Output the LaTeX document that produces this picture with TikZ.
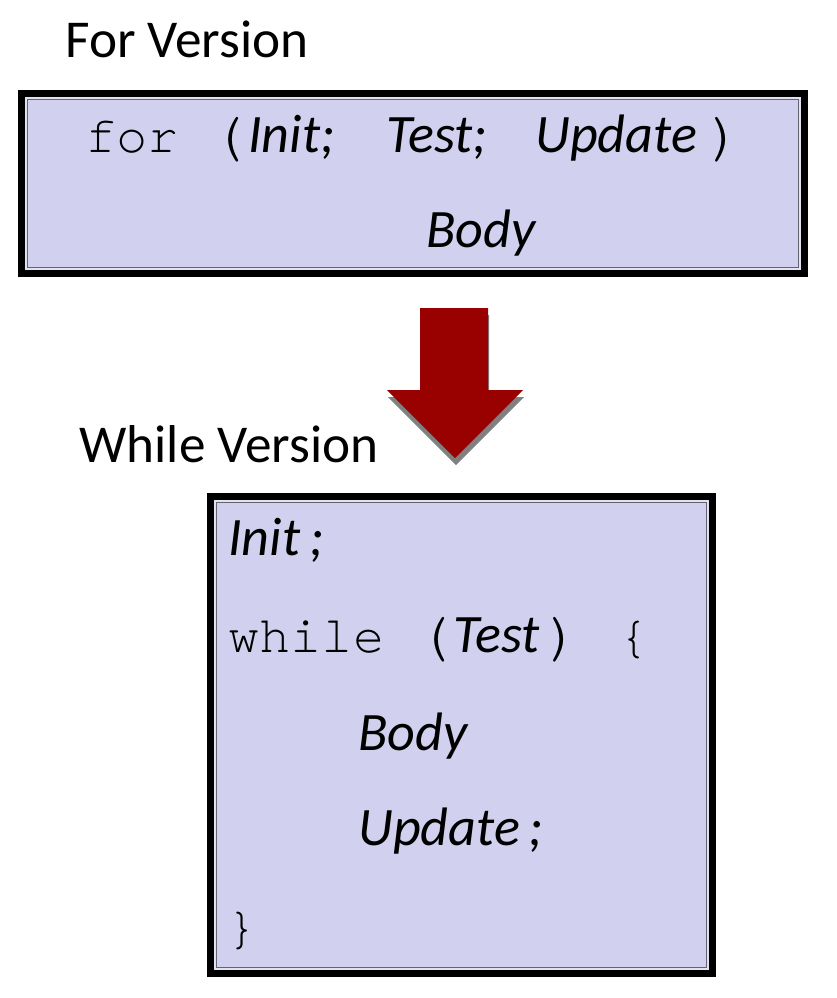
\documentclass[tikz,border=0pt]{standalone}
\usepackage{fontspec}
\setmainfont{Carlito}
\setmonofont{texgyrecursor-regular.otf}
\usepackage{tikz}
\usetikzlibrary{positioning}

\definecolor{boxfill}{RGB}{209,209,239}
\definecolor{boxgap}{RGB}{226,226,238}
\definecolor{boxline}{RGB}{100,100,112}
\definecolor{arrowred}{RGB}{153,0,0}
\definecolor{arrowshadow}{RGB}{128,128,128}

\newcommand{\headfont}{\fontsize{30.3}{36}\selectfont}
\newcommand{\codefont}{\fontsize{29.6}{35}\selectfont\ttfamily}
\newcommand{\varfont}{\fontsize{30.8}{36}\selectfont\itshape}
\newcommand{\parenfont}{\fontsize{35}{40}\selectfont\ttfamily}

\tikzset{
  outerframe/.style={draw=black, line width=0.14cm, fill=boxgap, inner sep=0pt},
  innerframe/.style={draw=boxline, line width=0.03cm, fill=boxfill, inner sep=0pt},
  heading/.style={anchor=base west, inner sep=0pt, font=\headfont},
  codeword/.style={anchor=base west, inner sep=0pt, font=\codefont},
  codechar/.style={anchor=base, inner sep=0pt, font=\codefont},
  parenchar/.style={anchor=base, inner sep=0pt, font=\parenfont},
  varword/.style={anchor=base west, inner sep=0pt, font=\varfont}
}

\begin{document}
\begin{tikzpicture}
  \useasboundingbox (0,0) rectangle (16.74,-19.96);

  % Headings
  \node[heading] (forhead) at (1.30,-1.14) {For Version};
  \node[heading] (whilehead) at (1.58,-9.24) {While Version};

  % For box
  \node[outerframe, minimum width=15.66cm, minimum height=3.6cm] (forframe) at (8.26,-3.67) {};
  \node[innerframe, minimum width=15.42cm, minimum height=3.36cm] (forbox) at (forframe.center) {};
  \node[codeword] (forkw) at (1.70,-3.04) {for};
  \node[parenchar] (forlp) at (4.58,-3.08) {(};
  \node[varword] (forinit) at (4.96,-3.04) {Init;};
  \node[varword] (fortest) at (7.72,-3.04) {Test;};
  \node[varword] (forupd) at (10.70,-3.04) {Update};
  \node[parenchar] (forrp) at (14.50,-3.08) {)};
  \node[varword] (forbody) at (8.52,-4.94) {Body};

  % Arrow (shadow first)
  \fill[arrowshadow, shift={(0.02,-0.14)}] (8.40,-6.16) -- (9.76,-6.16) -- (9.76,-7.80) -- (10.46,-7.80)
    -- (9.10,-9.16) -- (7.74,-7.80) -- (8.40,-7.80) -- cycle;
  \fill[arrowred] (8.40,-6.16) -- (9.76,-6.16) -- (9.76,-7.80) -- (10.46,-7.80)
    -- (9.10,-9.16) -- (7.74,-7.80) -- (8.40,-7.80) -- cycle;

  % While box
  \node[outerframe, minimum width=10.04cm, minimum height=9.54cm] (whileframe) at (9.23,-14.70) {};
  \node[innerframe, minimum width=9.80cm, minimum height=9.30cm] (whilebox) at (whileframe.center) {};
  \node[varword] (wInit) at (4.56,-11.10) {Init\,;};
  \node[codeword] (whilekw) at (4.56,-13.04) {while};
  \node[parenchar] (whilelp) at (8.70,-13.08) {(};
  \node[varword] (wtest) at (9.06,-13.04) {Test};
  \node[parenchar] (whilerp) at (11.26,-13.08) {)};
  \node[codechar] (whilelb) at (12.68,-13.04) {\{};
  \node[varword] (wbody) at (7.16,-15.00) {Body};
  \node[varword] (wupd) at (7.16,-16.90) {Update\,;};
  \node[codechar] (whilerb) at (4.84,-18.86) {\}};
\end{tikzpicture}
\end{document}
